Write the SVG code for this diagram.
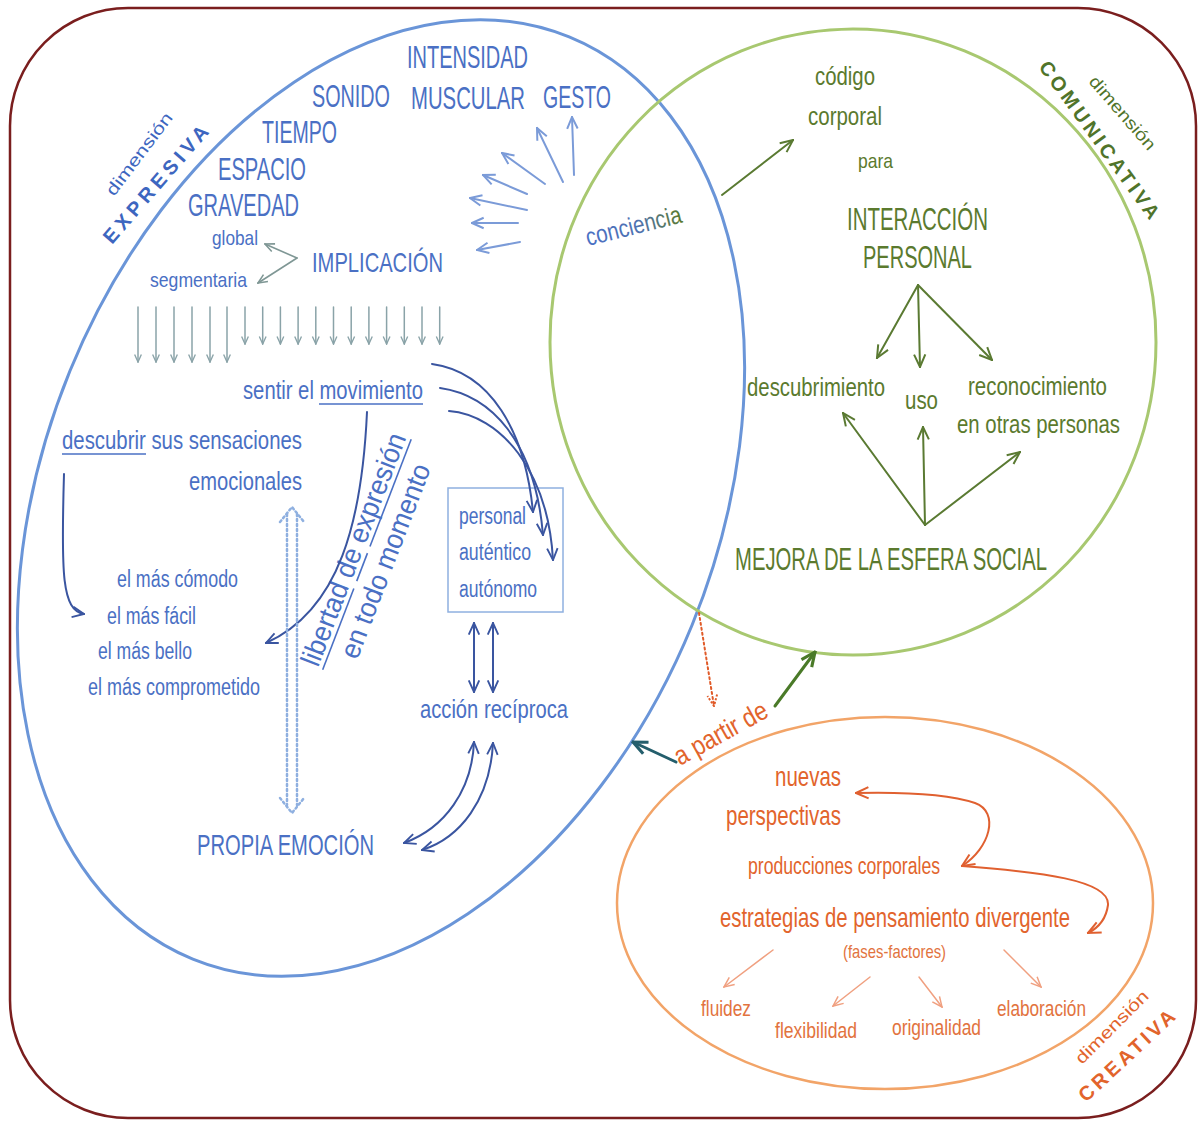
<svg xmlns="http://www.w3.org/2000/svg" width="1201" height="1122" viewBox="0 0 1201 1122">
  <defs>
    <style>
      text { font-family: "Liberation Sans", Arial, sans-serif; }
      .bl { fill: #4a70c4; }
      .bd { fill: #3d66c0; }
      .gr { fill: #5b7a2e; }
      .gd { fill: #50742a; }
      .or { fill: #e2642c; }
      .ol { fill: #e2733e; }
      .lbl { font-weight: bold; }
      .ln { fill: none; stroke-linecap: round; stroke-linejoin: round; }
      .fan { stroke: #7b9bd8; stroke-width: 2; }
      .gray { stroke: #7f9795; stroke-width: 1.6; }
      .down { stroke: #8aa3a8; stroke-width: 1.5; }
      .navy { stroke: #3a55a0; stroke-width: 2; }
      .grn { stroke: #5a7a32; stroke-width: 2; }
      .org { stroke: #e06030; stroke-width: 2; }
      .lorg { stroke: #f0a080; stroke-width: 1.5; }
    </style>
    <linearGradient id="gConc" x1="0" y1="0" x2="1" y2="0">
      <stop offset="0" stop-color="#4a70c4"/>
      <stop offset="0.55" stop-color="#4f72b0"/>
      <stop offset="1" stop-color="#5b7a2e"/>
    </linearGradient>
    <marker id="aFan" viewBox="0 0 12 12" refX="11" refY="6" markerWidth="14" markerHeight="14" markerUnits="userSpaceOnUse" orient="auto-start-reverse">
      <path d="M1,1.5 L11,6 L1,10.5" fill="none" stroke="#7b9bd8" stroke-width="1.7"/>
    </marker>
    <marker id="aGray" viewBox="0 0 12 12" refX="11" refY="6" markerWidth="11" markerHeight="11" markerUnits="userSpaceOnUse" orient="auto-start-reverse">
      <path d="M1,1.5 L11,6 L1,10.5" fill="none" stroke="#7f9795" stroke-width="1.7"/>
    </marker>
    <marker id="aDown" viewBox="0 0 12 12" refX="11" refY="6" markerWidth="9" markerHeight="9" markerUnits="userSpaceOnUse" orient="auto-start-reverse">
      <path d="M1,1.5 L11,6 L1,10.5" fill="none" stroke="#8aa3a8" stroke-width="1.8"/>
    </marker>
    <marker id="aNavy" viewBox="0 0 12 12" refX="11" refY="6" markerWidth="14" markerHeight="14" markerUnits="userSpaceOnUse" orient="auto-start-reverse">
      <path d="M1,1.5 L11,6 L1,10.5" fill="none" stroke="#3a55a0" stroke-width="1.6"/>
    </marker>
    <marker id="aGreen" viewBox="0 0 12 12" refX="11" refY="6" markerWidth="15" markerHeight="15" markerUnits="userSpaceOnUse" orient="auto-start-reverse">
      <path d="M1,1.5 L11,6 L1,10.5" fill="none" stroke="#5a7a32" stroke-width="1.6"/>
    </marker>
    <marker id="aDkGreen" viewBox="0 0 12 12" refX="11" refY="6" markerWidth="17" markerHeight="17" markerUnits="userSpaceOnUse" orient="auto-start-reverse">
      <path d="M1,1.5 L11,6 L1,10.5" fill="none" stroke="#4a7a28" stroke-width="2.2"/>
    </marker>
    <marker id="aTeal" viewBox="0 0 12 12" refX="11" refY="6" markerWidth="17" markerHeight="17" markerUnits="userSpaceOnUse" orient="auto-start-reverse">
      <path d="M1,1.5 L11,6 L1,10.5" fill="none" stroke="#245e6c" stroke-width="2.2"/>
    </marker>
    <marker id="aRed" viewBox="0 0 12 12" refX="11" refY="6" markerWidth="13" markerHeight="13" markerUnits="userSpaceOnUse" orient="auto-start-reverse">
      <path d="M1,1.5 L11,6 L1,10.5" fill="none" stroke="#e05a28" stroke-width="1.8" stroke-dasharray="2 1.5"/>
    </marker>
    <marker id="aOrange" viewBox="0 0 12 12" refX="11" refY="6" markerWidth="15" markerHeight="15" markerUnits="userSpaceOnUse" orient="auto-start-reverse">
      <path d="M1,1.5 L11,6 L1,10.5" fill="none" stroke="#e06030" stroke-width="1.6"/>
    </marker>
    <marker id="aLOrange" viewBox="0 0 12 12" refX="11" refY="6" markerWidth="12" markerHeight="12" markerUnits="userSpaceOnUse" orient="auto-start-reverse">
      <path d="M1,1.5 L11,6 L1,10.5" fill="none" stroke="#f0a080" stroke-width="1.5"/>
    </marker>
  </defs>

  <rect width="1201" height="1122" fill="#ffffff"/>

  <!-- outer frame and the three dimension outlines -->
  <g id="frame">
    <rect x="10" y="8" width="1186" height="1110" rx="118" ry="118" fill="none" stroke="#7a1e1e" stroke-width="2.5"/>
  </g>
  <g id="dimension-expresiva-outline">
    <ellipse cx="381" cy="498" rx="498" ry="336" transform="rotate(-67.8 381 498)" fill="none" stroke="#6a95d8" stroke-width="3"/>
  </g>
  <g id="dimension-comunicativa-outline">
    <ellipse cx="853" cy="342" rx="303" ry="313" fill="none" stroke="#a8c870" stroke-width="3"/>
  </g>
  <g id="dimension-creativa-outline">
    <ellipse cx="885" cy="903" rx="268" ry="186" fill="none" stroke="#f2a468" stroke-width="2.5"/>
  </g>

  <!-- dimension titles -->
  <g id="title-expresiva">
    <text class="bd" font-size="17" transform="translate(114,197) rotate(-53)" textLength="99" lengthAdjust="spacingAndGlyphs">dimensión</text>
    <text class="bd lbl" font-size="20" transform="translate(112,245) rotate(-49)" textLength="149" lengthAdjust="spacing">EXPRESIVA</text>
  </g>
  <g id="title-comunicativa">
    <text class="gd" font-size="17" transform="translate(1088,82) rotate(49)" textLength="92" lengthAdjust="spacingAndGlyphs">dimensión</text>
    <text class="gd lbl" font-size="20" transform="translate(1038,67) rotate(54)" textLength="190" lengthAdjust="spacing">COMUNICATIVA</text>
  </g>
  <g id="title-creativa">
    <text class="or" font-size="17" transform="translate(1082,1065) rotate(-45)" textLength="96" lengthAdjust="spacingAndGlyphs">dimensión</text>
    <text class="or lbl" font-size="20" transform="translate(1086,1103) rotate(-43)" textLength="124" lengthAdjust="spacing">CREATIVA</text>
  </g>

  <!-- expressive elements -->
  <g id="n-intensidad"><text class="bl" font-size="31" x="407" y="68" textLength="121" lengthAdjust="spacingAndGlyphs">INTENSIDAD</text></g>
  <g id="n-sonido"><text class="bl" font-size="31" x="312" y="107" textLength="78" lengthAdjust="spacingAndGlyphs">SONIDO</text></g>
  <g id="n-muscular"><text class="bl" font-size="31" x="411" y="109" textLength="114" lengthAdjust="spacingAndGlyphs">MUSCULAR</text></g>
  <g id="n-gesto"><text class="bl" font-size="31" x="543" y="108" textLength="68" lengthAdjust="spacingAndGlyphs">GESTO</text></g>
  <g id="n-tiempo"><text class="bl" font-size="31" x="262" y="143" textLength="75" lengthAdjust="spacingAndGlyphs">TIEMPO</text></g>
  <g id="n-espacio"><text class="bl" font-size="31" x="218" y="180" textLength="88" lengthAdjust="spacingAndGlyphs">ESPACIO</text></g>
  <g id="n-gravedad"><text class="bl" font-size="31" x="188" y="216" textLength="111" lengthAdjust="spacingAndGlyphs">GRAVEDAD</text></g>
  <g id="n-global"><text class="bl" font-size="21" x="212" y="245" textLength="46" lengthAdjust="spacingAndGlyphs">global</text></g>
  <g id="n-implicacion"><text class="bl" font-size="28" x="312" y="272" textLength="131" lengthAdjust="spacingAndGlyphs">IMPLICACIÓN</text></g>
  <g id="n-segmentaria"><text class="bl" font-size="21" x="150" y="287" textLength="97" lengthAdjust="spacingAndGlyphs">segmentaria</text></g>

  <g id="n-sentir">
    <text class="bl" font-size="26" x="243" y="399" textLength="180" lengthAdjust="spacingAndGlyphs">sentir el movimiento</text>
    <line x1="319" y1="404" x2="423" y2="404" stroke="#4a70c4" stroke-width="1.6"/>
  </g>
  <g id="n-descubrir">
    <text class="bl" font-size="26" x="62" y="449" textLength="240" lengthAdjust="spacingAndGlyphs">descubrir sus sensaciones</text>
    <text class="bl" font-size="26" x="189" y="490" textLength="113" lengthAdjust="spacingAndGlyphs">emocionales</text>
    <line x1="62" y1="454" x2="146" y2="454" stroke="#4a70c4" stroke-width="1.6"/>
  </g>
  <g id="n-opciones">
    <text class="bl" font-size="23" x="117" y="587" textLength="121" lengthAdjust="spacingAndGlyphs">el más cómodo</text>
    <text class="bl" font-size="23" x="107" y="624" textLength="89" lengthAdjust="spacingAndGlyphs">el más fácil</text>
    <text class="bl" font-size="23" x="98" y="659" textLength="94" lengthAdjust="spacingAndGlyphs">el más bello</text>
    <text class="bl" font-size="23" x="88" y="695" textLength="172" lengthAdjust="spacingAndGlyphs">el más comprometido</text>
  </g>
  <g id="n-libertad" transform="translate(318,668) rotate(-69)">
    <text class="bl" font-size="28" x="0" y="0" textLength="247" lengthAdjust="spacingAndGlyphs">libertad de expresión</text>
    <text class="bl" font-size="28" x="21" y="34" textLength="206" lengthAdjust="spacingAndGlyphs">en todo momento</text>
    <g stroke="#4a70c4" stroke-width="1.6">
      <line x1="0" y1="5" x2="87" y2="5"/>
      <line x1="95" y1="5" x2="125" y2="5"/>
      <line x1="132" y1="5" x2="247" y2="5"/>
    </g>
  </g>
  <g id="n-cualidades">
    <rect x="448" y="488" width="115" height="124" fill="none" stroke="#8fb0e0" stroke-width="1.5"/>
    <text class="bl" font-size="23" x="459" y="524" textLength="67" lengthAdjust="spacingAndGlyphs">personal</text>
    <text class="bl" font-size="23" x="459" y="560" textLength="72" lengthAdjust="spacingAndGlyphs">auténtico</text>
    <text class="bl" font-size="23" x="459" y="597" textLength="78" lengthAdjust="spacingAndGlyphs">autónomo</text>
  </g>
  <g id="n-accion"><text class="bl" font-size="26" x="420" y="718" textLength="148" lengthAdjust="spacingAndGlyphs">acción recíproca</text></g>
  <g id="n-propia"><text class="bl" font-size="30" x="197" y="855" textLength="177" lengthAdjust="spacingAndGlyphs">PROPIA EMOCIÓN</text></g>

  <!-- communicative elements -->
  <g id="n-conciencia"><text fill="url(#gConc)" font-size="25" transform="translate(588,246) rotate(-14)" textLength="98" lengthAdjust="spacingAndGlyphs">conciencia</text></g>
  <g id="n-codigo">
    <text class="gr" font-size="25" x="815" y="85" textLength="60" lengthAdjust="spacingAndGlyphs">código</text>
    <text class="gr" font-size="25" x="808" y="125" textLength="74" lengthAdjust="spacingAndGlyphs">corporal</text>
  </g>
  <g id="n-para"><text class="gr" font-size="21" x="858" y="168" textLength="35" lengthAdjust="spacingAndGlyphs">para</text></g>
  <g id="n-interaccion">
    <text class="gr" font-size="31" x="847" y="230" textLength="141" lengthAdjust="spacingAndGlyphs">INTERACCIÓN</text>
    <text class="gr" font-size="31" x="863" y="268" textLength="109" lengthAdjust="spacingAndGlyphs">PERSONAL</text>
  </g>
  <g id="n-descubrimiento"><text class="gr" font-size="26" x="747" y="396" textLength="138" lengthAdjust="spacingAndGlyphs">descubrimiento</text></g>
  <g id="n-uso"><text class="gr" font-size="26" x="905" y="409" textLength="33" lengthAdjust="spacingAndGlyphs">uso</text></g>
  <g id="n-reconocimiento">
    <text class="gr" font-size="26" x="968" y="395" textLength="139" lengthAdjust="spacingAndGlyphs">reconocimiento</text>
    <text class="gr" font-size="26" x="957" y="433" textLength="163" lengthAdjust="spacingAndGlyphs">en otras personas</text>
  </g>
  <g id="n-mejora"><text class="gr" font-size="31" x="735" y="570" textLength="312" lengthAdjust="spacingAndGlyphs">MEJORA DE LA ESFERA SOCIAL</text></g>

  <!-- creative elements -->
  <g id="n-apartir"><text class="or" font-size="27" transform="translate(680,766) rotate(-29)" textLength="103" lengthAdjust="spacingAndGlyphs">a partir de</text></g>
  <g id="n-nuevas">
    <text class="or" font-size="28" x="775" y="786" textLength="66" lengthAdjust="spacingAndGlyphs">nuevas</text>
    <text class="or" font-size="28" x="726" y="825" textLength="115" lengthAdjust="spacingAndGlyphs">perspectivas</text>
  </g>
  <g id="n-producciones"><text class="or" font-size="23" x="748" y="874" textLength="192" lengthAdjust="spacingAndGlyphs">producciones corporales</text></g>
  <g id="n-estrategias">
    <text class="or" font-size="28" x="720" y="927" textLength="350" lengthAdjust="spacingAndGlyphs">estrategias de pensamiento divergente</text>
    <text class="ol" font-size="19" x="843" y="958" textLength="103" lengthAdjust="spacingAndGlyphs">(fases-factores)</text>
  </g>
  <g id="n-fluidez"><text class="ol" font-size="22" x="701" y="1016" textLength="50" lengthAdjust="spacingAndGlyphs">fluidez</text></g>
  <g id="n-flexibilidad"><text class="ol" font-size="22" x="775" y="1038" textLength="82" lengthAdjust="spacingAndGlyphs">flexibilidad</text></g>
  <g id="n-originalidad"><text class="ol" font-size="22" x="892" y="1035" textLength="89" lengthAdjust="spacingAndGlyphs">originalidad</text></g>
  <g id="n-elaboracion"><text class="ol" font-size="22" x="997" y="1016" textLength="89" lengthAdjust="spacingAndGlyphs">elaboración</text></g>

  <!-- connectors -->
  <g id="connectors">
    <!-- fan towards the expressive elements -->
    <g class="ln fan" marker-end="url(#aFan)">
      <line x1="574" y1="175" x2="572" y2="117"/>
      <line x1="563" y1="182" x2="537" y2="128"/>
      <line x1="545" y1="184" x2="502" y2="153"/>
      <line x1="527" y1="194" x2="483" y2="175"/>
      <line x1="527" y1="210" x2="470" y2="198"/>
      <line x1="518" y1="223" x2="472" y2="223"/>
      <line x1="520" y1="242" x2="477" y2="250"/>
    </g>
    <!-- implicación: global / segmentaria -->
    <g class="ln gray" marker-end="url(#aGray)">
      <line x1="297" y1="258" x2="265" y2="244"/>
      <line x1="297" y1="258" x2="258" y2="283"/>
    </g>
    <!-- row of downward arrows -->
    <g class="ln down" marker-end="url(#aDown)">
      <line x1="138" y1="307" x2="138" y2="362"/>
      <line x1="156" y1="307" x2="156" y2="362"/>
      <line x1="174" y1="307" x2="174" y2="362"/>
      <line x1="192" y1="307" x2="192" y2="362"/>
      <line x1="210" y1="307" x2="210" y2="362"/>
      <line x1="227" y1="307" x2="227" y2="362"/>
      <line x1="245" y1="307" x2="245" y2="344"/>
      <line x1="262.7" y1="307" x2="262.7" y2="344"/>
      <line x1="280.4" y1="307" x2="280.4" y2="344"/>
      <line x1="298.1" y1="307" x2="298.1" y2="344"/>
      <line x1="315.8" y1="307" x2="315.8" y2="344"/>
      <line x1="333.5" y1="307" x2="333.5" y2="344"/>
      <line x1="351.2" y1="307" x2="351.2" y2="344"/>
      <line x1="368.9" y1="307" x2="368.9" y2="344"/>
      <line x1="386.6" y1="307" x2="386.6" y2="344"/>
      <line x1="404.3" y1="307" x2="404.3" y2="344"/>
      <line x1="422" y1="307" x2="422" y2="344"/>
      <line x1="439.7" y1="307" x2="439.7" y2="344"/>
    </g>
    <!-- descubrir -> options -->
    <path class="ln navy" d="M64,474 C61,575 62,610 84,614" stroke-width="1.5" marker-end="url(#aNavy)"/>
    <!-- movimiento -> options -->
    <path class="ln navy" d="M367,412 C362,520 340,610 266,643" marker-end="url(#aNavy)"/>
    <!-- sentir -> personal / auténtico / autónomo -->
    <g class="ln navy" marker-end="url(#aNavy)">
      <path d="M432,364 C490,372 525,430 533,512"/>
      <path d="M440,388 C490,395 535,440 543,535"/>
      <path d="M449,411 C500,415 548,470 553,560"/>
    </g>
    <!-- box <-> acción recíproca -->
    <g class="ln navy" marker-start="url(#aNavy)" marker-end="url(#aNavy)">
      <line x1="474" y1="623" x2="474" y2="692"/>
      <line x1="493" y1="623" x2="493" y2="692"/>
    </g>
    <!-- acción recíproca <-> propia emoción -->
    <g class="ln navy" stroke-width="1.8" marker-start="url(#aNavy)" marker-end="url(#aNavy)">
      <path d="M474,742 C472,790 445,828 404,843"/>
      <path d="M493,743 C490,800 460,838 422,850"/>
    </g>
    <!-- dotted link emocionales <-> propia emoción -->
    <g class="ln" stroke="#8fb0e0" stroke-width="2.5" stroke-dasharray="2 3">
      <line x1="287" y1="514" x2="287" y2="805"/>
      <line x1="297" y1="514" x2="297" y2="805"/>
      <path d="M280,522 L292,507 L304,522"/>
      <path d="M280,798 L292,813 L304,798"/>
    </g>
    <!-- conciencia -> código corporal -->
    <line class="ln grn" x1="722" y1="195" x2="793" y2="140" stroke-width="2.5" marker-end="url(#aGreen)"/>
    <!-- interacción personal -> descubrimiento / uso / reconocimiento -->
    <g class="ln grn" marker-end="url(#aGreen)">
      <line x1="918" y1="285" x2="877" y2="358"/>
      <line x1="918" y1="285" x2="920" y2="367"/>
      <line x1="918" y1="285" x2="992" y2="360"/>
    </g>
    <!-- mejora de la esfera social -> descubrimiento / uso / reconocimiento -->
    <g class="ln grn" marker-end="url(#aGreen)">
      <line x1="925" y1="525" x2="843" y2="413"/>
      <line x1="925" y1="525" x2="923" y2="427"/>
      <line x1="925" y1="525" x2="1020" y2="452"/>
    </g>
    <!-- a partir de -> comunicativa / expresiva -->
    <line class="ln" x1="775" y1="706" x2="815" y2="652" stroke="#4a7a28" stroke-width="3" marker-end="url(#aDkGreen)"/>
    <line class="ln" x1="676" y1="762" x2="633" y2="742" stroke="#245e6c" stroke-width="3" marker-end="url(#aTeal)"/>
    <!-- intersection -> creativa (dotted) -->
    <line class="ln" x1="699" y1="613" x2="714" y2="706" stroke="#e05a28" stroke-width="2" stroke-dasharray="2 3" marker-end="url(#aRed)"/>
    <!-- creative loop -->
    <path class="ln org" d="M962,866 C990,848 1000,812 975,803 C945,793 900,792 856,793" marker-start="url(#aOrange)" marker-end="url(#aOrange)"/>
    <path class="ln org" d="M962,866 C1040,872 1110,880 1108,905 C1106,920 1098,928 1088,933" marker-end="url(#aOrange)"/>
    <!-- factors -->
    <g class="ln lorg" marker-end="url(#aLOrange)">
      <line x1="773" y1="950" x2="724" y2="987"/>
      <line x1="870" y1="977" x2="833" y2="1006"/>
      <line x1="919" y1="977" x2="942" y2="1007"/>
      <line x1="1004" y1="950" x2="1041" y2="987"/>
    </g>
  </g>
</svg>
